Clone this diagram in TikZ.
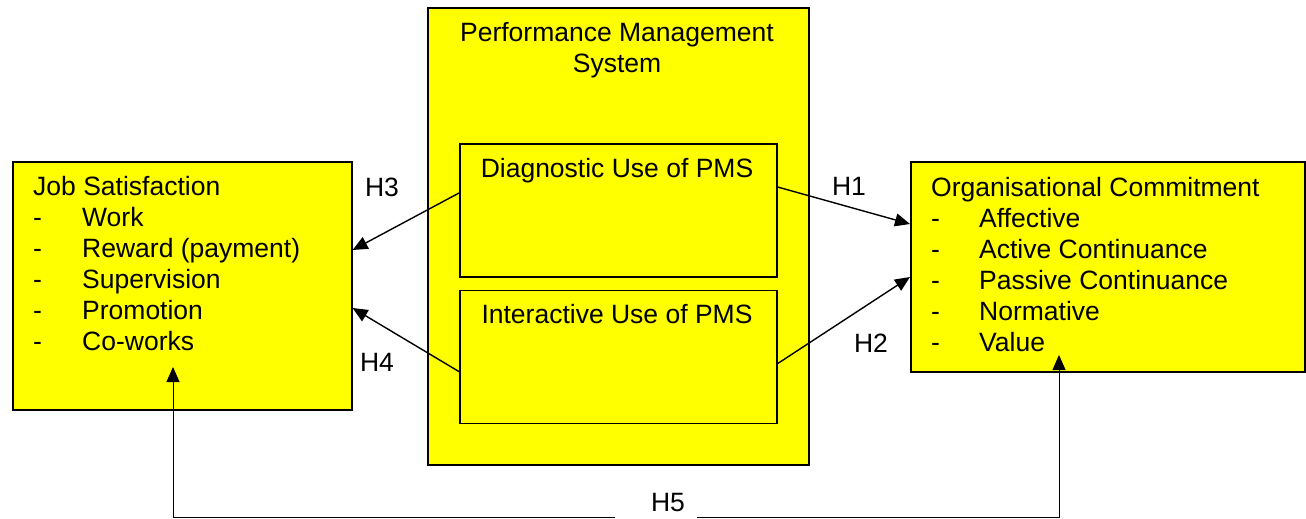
\documentclass[tikz,border=0pt]{standalone}
\usepackage{fontspec}
\setmainfont{Liberation Sans}
\usetikzlibrary{arrows.meta, positioning}
\definecolor{boxyellow}{RGB}{255,255,0}

\begin{document}
\begin{tikzpicture}  [
        x = 1pt, y = -1pt,
        node distance = 12pt,
        block/.style = {rectangle, draw, line width=1.6pt, fill=boxyellow, inner sep=0pt, anchor=north west},
        txt/.style = {inner sep=0pt, align=left, anchor=north west, font=\fontsize{26.5}{31}\selectfont},
        hyp/.style = {inner sep=0pt, font=\fontsize{26.5}{31}\selectfont},
        link/.style = {-{Triangle[length=15pt, width=13pt]}, line width=1.4pt}
    ]

    \useasboundingbox (0,0) rectangle (1306,519);

    \node[block, minimum width=339pt, minimum height=248pt] (js)  at (12,161)  {};
    \node[block, minimum width=381pt, minimum height=457pt] (pms) at (427,7)   {};
    \node[block, minimum width=317pt, minimum height=133pt] (diag) at (459,143) {};
    \node[block, minimum width=317pt, minimum height=133pt, below = of diag] (inter) {};
    \node[block, minimum width=394pt, minimum height=210pt] (oc)  at (910,161) {};

    \node[txt] (jst) at (33,176) {Job Satisfaction\\
        \makebox[49pt][l]{-}Work\\
        \makebox[49pt][l]{-}Reward (payment)\\
        \makebox[49pt][l]{-}Supervision\\
        \makebox[49pt][l]{-}Promotion\\
        \makebox[49pt][l]{-}Co-works};
    \node[txt] (oct) at (931,177) {Organisational Commitment\\
        \makebox[48pt][l]{-}Affective\\
        \makebox[48pt][l]{-}Active Continuance\\
        \makebox[48pt][l]{-}Passive Continuance\\
        \makebox[48pt][l]{-}Normative\\
        \makebox[48pt][l]{-}Value};
    \node[hyp, align=center, anchor=north] (pmst) at (617,22) {Performance Management\\System};
    \node[hyp, anchor=base] (diagt)  at (617,177.5) {Diagnostic Use of PMS};
    \node[hyp, anchor=base] (intert) at (617,323.5) {Interactive Use of PMS};

    \node[hyp] (h1) at (849,186) {H1};
    \node[hyp] (h2) at (871,343) {H2};
    \node[hyp] (h3) at (382,187) {H3};
    \node[hyp] (h4) at (377,362) {H4};
    \node[hyp] (h5) at (668,503) {H5};

    \coordinate (jsin) at (173,367);
    \coordinate (ocin) at (1059,355);
    \coordinate (h5l)  at (615,517);
    \coordinate (h5r)  at (697,517);

    \draw[link] ([yshift=-44pt]diag.north east)  -- ([yshift=-63pt]oc.north west);
    \draw[link] ([yshift=-74pt]inter.north east) -- ([yshift=-116pt]oc.north west);
    \draw[link] ([yshift=-50pt]diag.north west)  -- ([yshift=-89pt]js.north east);
    \draw[link] ([yshift=-82pt]inter.north west) -- ([yshift=-147pt]js.north east);
    \draw[link, line width=0.9pt] (h5l) -| (jsin);
    \draw[link, line width=0.9pt] (h5r) -| (ocin);

\end{tikzpicture}
\end{document}
